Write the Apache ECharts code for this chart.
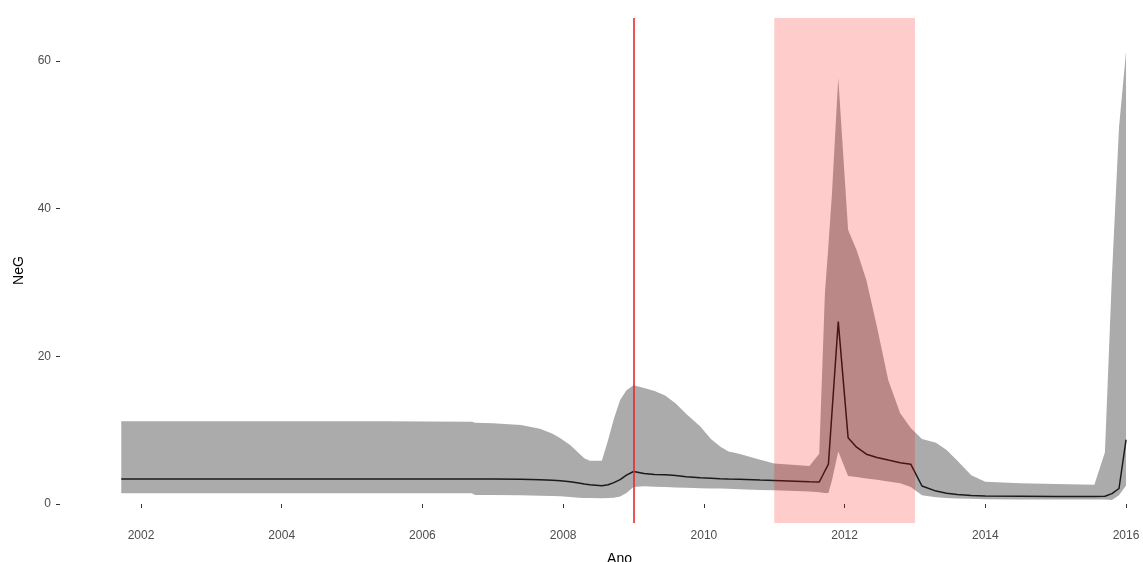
<!DOCTYPE html>
<html>
<head>
<meta charset="utf-8">
<script src="https://cdn.jsdelivr.net/npm/echarts@6/dist/echarts.min.js"></script>
<style>
html,body{margin:0;padding:0;background:#fff;}
#chart{width:1143px;height:562px;}
</style>
</head>
<body>
<div id="chart"></div>
<script>
// Time points (year)
const years = [2001.72, 2002.5, 2004.0, 2005.5, 2006.7, 2006.75, 2007.0, 2007.4, 2007.67, 2007.85,
  2007.96, 2008.1, 2008.22, 2008.3, 2008.38, 2008.55, 2008.64, 2008.72, 2008.81, 2008.9,
  2009.0, 2009.15, 2009.3, 2009.45, 2009.6, 2009.75, 2009.95, 2010.1, 2010.23, 2010.35,
  2010.5, 2010.8, 2011.0, 2011.5, 2011.64, 2011.72, 2011.77, 2011.82, 2011.91, 2012.05,
  2012.17, 2012.31, 2012.46, 2012.62, 2012.79, 2012.94, 2013.1, 2013.3, 2013.45, 2013.6,
  2013.8, 2014.0, 2014.5, 2015.0, 2015.55, 2015.7, 2015.8, 2015.9, 2016.0];
// Lower bound of NeG
const lower = [1.45, 1.45, 1.45, 1.45, 1.45, 1.22, 1.22, 1.2, 1.12, 1.08,
  1.05, 0.95, 0.85, 0.82, 0.8, 0.77, 0.8, 0.85, 1.0, 1.5,
  2.3, 2.4, 2.35, 2.3, 2.25, 2.2, 2.12, 2.1, 2.1, 2.05,
  2.0, 1.9, 1.85, 1.7, 1.6, 1.5, 1.5, 3.2, 7.1, 3.8,
  3.65, 3.45, 3.3, 3.05, 2.8, 2.3, 1.2, 0.9, 0.8, 0.75,
  0.7, 0.65, 0.6, 0.6, 0.6, 0.6, 0.55, 1.2, 2.5];
// Median NeG
const median = [3.39, 3.39, 3.39, 3.39, 3.39, 3.38, 3.37, 3.35, 3.3, 3.22,
  3.15, 3.0, 2.85, 2.7, 2.6, 2.48, 2.6, 2.9, 3.3, 3.9,
  4.4, 4.12, 4.0, 3.95, 3.85, 3.7, 3.55, 3.48, 3.42, 3.38,
  3.35, 3.25, 3.2, 3.02, 2.98, 4.47, 5.4, 12.3, 24.7, 8.98,
  7.7, 6.75, 6.3, 5.95, 5.6, 5.4, 2.44, 1.75, 1.45, 1.3,
  1.15, 1.1, 1.05, 1.0, 1.0, 1.05, 1.4, 2.1, 8.7];
// Upper bound of NeG
const upper = [11.2, 11.2, 11.2, 11.2, 11.15, 11.0, 10.95, 10.7, 10.2, 9.5,
  8.9, 8.0, 6.9, 6.2, 5.87, 5.87, 8.7, 11.5, 14.1, 15.4,
  16.1, 15.7, 15.3, 14.7, 13.6, 12.2, 10.5, 8.8, 7.8, 7.1,
  6.8, 6.0, 5.5, 5.15, 6.8, 28.5, 35, 42, 57.7, 37.1,
  34.4, 30.3, 24, 16.8, 12.3, 10.3, 8.8, 8.3, 7.3, 5.9,
  3.9, 3.0, 2.8, 2.7, 2.6, 7.0, 31, 51, 61.3];

const xTicks = [2002, 2004, 2006, 2008, 2010, 2012, 2014, 2016];
const yTicks = [0, 20, 40, 60];
const eventYear = [2009];
const shadedPeriod = [2011, 2013];

const bandData = years.map((x, i) => [x, lower[i], upper[i]]);
const medianData = years.map((x, i) => [x, median[i]]);

const font = 'Liberation Sans, Arial, sans-serif';
const chart = echarts.init(document.getElementById('chart'), null, {renderer: 'canvas'});
chart.setOption({
  animation: false,
  backgroundColor: '#ffffff',
  grid: {left: 60, right: 0, top: 18, bottom: 39, containLabel: false, outerBoundsMode: 'none'},
  xAxis: {
    type: 'value',
    min: 2000.849, max: 2016.241,
    name: 'Ano', nameLocation: 'middle', nameGap: 29,
    nameTextStyle: {color: '#000', fontSize: 14, fontFamily: font, padding: [0, 0, 0, 36]},
    splitLine: {show: false},
    axisLine: {show: false},
    axisTick: {show: true, customValues: xTicks, length: 4, lineStyle: {color: '#333', width: 1}},
    axisLabel: {customValues: xTicks, color: '#4d4d4d', fontSize: 12, fontFamily: font, margin: 7,
      formatter: v => String(v)}
  },
  yAxis: {
    type: 'value',
    min: -2.573, max: 65.824,
    name: 'NeG', nameLocation: 'middle', nameGap: 34, nameRotate: 90,
    nameTextStyle: {color: '#000', fontSize: 14, fontFamily: font},
    splitLine: {show: false},
    axisLine: {show: false},
    axisTick: {show: true, customValues: yTicks, length: 4, lineStyle: {color: '#333', width: 1}},
    axisLabel: {customValues: yTicks, color: '#4d4d4d', fontSize: 12, fontFamily: font, margin: 9}
  },
  series: [
    {
      type: 'custom', data: bandData, silent: true, z: 2,
      encode: {x: 0, y: [1, 2]},
      renderItem: function (params, api) {
        if (params.dataIndex !== 0) return null;
        const top = bandData.map(d => api.coord([d[0], d[2]]));
        const bot = bandData.slice().reverse().map(d => api.coord([d[0], d[1]]));
        return {
          type: 'polygon',
          shape: {points: top.concat(bot)},
          style: {fill: '#ababab', stroke: null}
        };
      }
    },
    {
      type: 'line', data: medianData, symbol: 'none',
      lineStyle: {color: '#1a1a1a', width: 1.5}, silent: true, z: 3,
      markLine: {
        silent: true, symbol: ['none', 'none'], label: {show: false}, z: 10,
        lineStyle: {color: '#e8282b', width: 1.6, type: 'solid'},
        data: eventYear.map(v => ({xAxis: v}))
      },
      markArea: {
        silent: true, z: 10,
        itemStyle: {color: 'rgba(255,0,0,0.2)'},
        data: [[{xAxis: shadedPeriod[0]}, {xAxis: shadedPeriod[1]}]]
      }
    }
  ]
});
</script>
</body>
</html>
